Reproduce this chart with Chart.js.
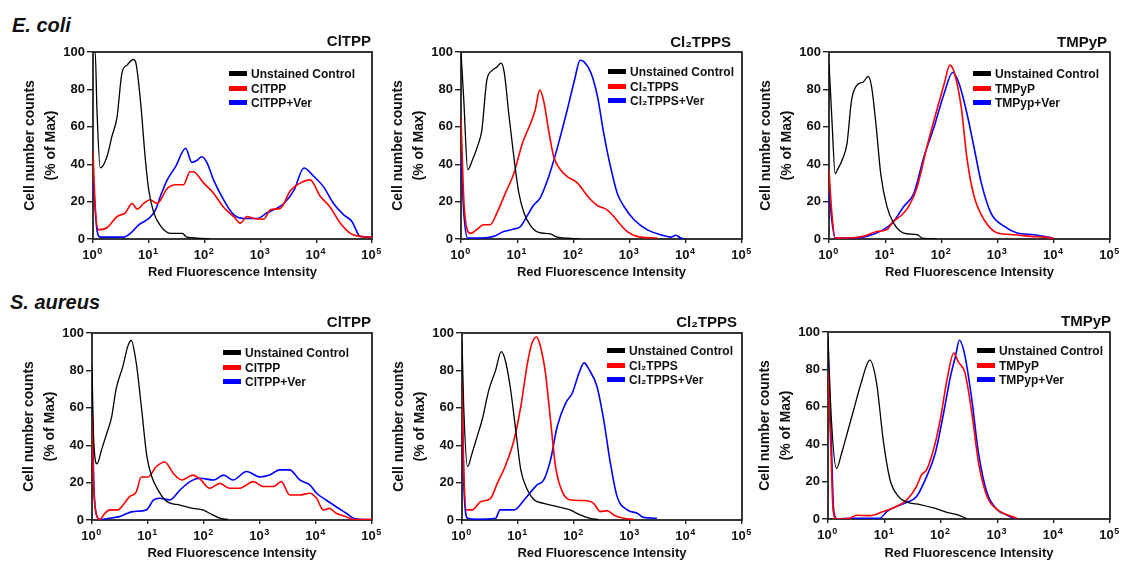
<!DOCTYPE html>
<html>
<head>
<meta charset="utf-8">
<script src="https://cdn.jsdelivr.net/npm/chart.js@4.4.1/dist/chart.umd.min.js"></script>
<style>
    body { margin: 0; background: #fff; }
    #fig { position: relative; width: 1121px; height: 561px; overflow: hidden; background: #fff; }
    #fig canvas { position: absolute; }
    .species { position: absolute; font: italic bold 20px "Liberation Sans", Arial, sans-serif; color: #111; line-height: 24px; }
    .ptitle { position: absolute; font: bold 15px "Liberation Sans", Arial, sans-serif; color: #111; line-height: 18px; white-space: nowrap; }
    .legend { position: absolute; font: bold 12px "Liberation Sans", Arial, sans-serif; color: #111; line-height: 14.5px; white-space: nowrap; }
    .legend .sw { display: inline-block; width: 18px; height: 5px; margin-right: 4px; vertical-align: middle; position: relative; top: -1px; }
</style>
</head>
<body>
<div id="fig">
    <div class="species" style="left:12px;top:13px">E. coli</div>
    <div class="species" style="left:10px;top:290px">S. aureus</div>
</div>
<script>
// x values are log10 of red fluorescence intensity, y values are % of max
const decadeBase = '10';
const decadeExponents = ['0', '1', '2', '3', '4', '5'];

// E. coli - ClTPP
const ecoliClCtrlX = [0, 0.04, 0.07, 0.13, 0.25, 0.34, 0.43, 0.52, 0.61, 0.72, 0.76, 0.85, 0.94, 1.0, 1.09, 1.21, 1.39, 1.6, 1.68, 1.86, 2.1];
const ecoliClCtrlY = [100, 100, 70, 38, 44, 55, 65, 89, 93, 96, 95, 74, 42, 26, 14, 7, 3, 3, 1, 0.5, 0];
const ecoliClDyeX = [0, 0.04, 0.1, 0.25, 0.43, 0.58, 0.7, 0.79, 0.91, 1.02, 1.15, 1.33, 1.48, 1.62, 1.74, 1.8, 1.98, 2.16, 2.34, 2.52, 2.64, 2.76, 2.88, 3.06, 3.18, 3.36, 3.54, 3.72, 3.89, 4.07, 4.25, 4.43, 4.61, 4.79, 5];
const ecoliClDyeY = [47, 17, 5, 6, 12, 14, 19, 16, 19, 21, 19, 27, 29, 29, 36, 36, 30, 24.5, 17, 12, 8.5, 12, 11, 10.6, 15.6, 16.5, 26, 30, 31.6, 23, 17, 8.5, 3, 1.4, 1];
const ecoliClVerX = [0, 0.07, 0.13, 0.55, 0.67, 0.82, 1.0, 1.12, 1.21, 1.33, 1.48, 1.66, 1.77, 1.86, 1.95, 2.04, 2.16, 2.34, 2.52, 2.7, 2.94, 3.12, 3.42, 3.6, 3.78, 3.96, 4.13, 4.31, 4.49, 4.64, 4.79, 5];
const ecoliClVerY = [34, 5, 1, 1, 3, 7.6, 11, 15.6, 23, 31.6, 38.7, 48.5, 41, 42, 44, 41, 31.6, 21, 13, 11, 11, 14, 19, 26, 38, 33.4, 28, 19, 13, 9.4, 1.4, 1];

// E. coli - Cl2TPPS
const ecoliCl2CtrlX = [0, 0.05, 0.12, 0.2, 0.31, 0.37, 0.46, 0.55, 0.64, 0.71, 0.77, 0.85, 0.94, 1.03, 1.12, 1.24, 1.38, 1.59, 1.71, 1.89, 2.12];
const ecoliCl2CtrlY = [100, 74, 37, 42, 51, 58, 85, 90, 92, 94, 89, 67, 44, 24.5, 14, 7, 3.5, 2.7, 1, 0.4, 0];
const ecoliCl2DyeX = [0, 0.05, 0.11, 0.17, 0.28, 0.4, 0.52, 0.64, 0.79, 0.94, 1.09, 1.24, 1.32, 1.4, 1.47, 1.56, 1.65, 1.77, 1.89, 2.07, 2.25, 2.42, 2.6, 2.72, 2.84, 2.96, 3.13, 3.49];
const ecoliCl2DyeY = [65, 21, 5, 3, 5, 7.6, 7.6, 14, 24.5, 35, 51, 62, 69, 79.6, 74, 58, 44, 37, 33.4, 30, 23, 18, 15.6, 12, 7.6, 4, 1.4, 0.5];
const ecoliCl2VerX = [0, 0.05, 0.12, 0.37, 0.58, 0.76, 0.94, 1.06, 1.17, 1.29, 1.41, 1.53, 1.65, 1.77, 1.89, 2.02, 2.12, 2.19, 2.31, 2.43, 2.54, 2.66, 2.78, 2.9, 3.08, 3.31, 3.55, 3.73, 3.82, 3.91, 3.98];
const ecoliCl2VerY = [46, 14, 0.5, 0.5, 1.4, 4, 5.3, 6.7, 12, 18, 22, 30.7, 42, 55, 69, 85, 95.6, 94.7, 89, 76, 56.5, 38.7, 24.5, 17.4, 10.3, 5, 2.3, 1, 2, 0.5, 0];

// E. coli - TMPyP
const ecoliTmCtrlX = [0, 0.05, 0.11, 0.15, 0.23, 0.32, 0.4, 0.49, 0.61, 0.7, 0.76, 0.84, 0.92, 1.03, 1.15, 1.33, 1.57, 1.66, 1.92];
const ecoliTmCtrlY = [94, 65, 35, 37, 42, 51, 74, 82, 84, 87, 81, 60, 35, 17.4, 8.5, 3.2, 2.3, 0.5, 0];
const ecoliTmDyeX = [0, 0.05, 0.11, 0.32, 0.61, 0.85, 1.03, 1.15, 1.3, 1.42, 1.57, 1.74, 1.9, 2.05, 2.15, 2.23, 2.35, 2.46, 2.58, 2.76, 3.0, 3.29, 3.59, 3.83, 4.0];
const ecoliTmDyeY = [37, 14, 0.5, 0.5, 1.4, 4, 5, 9.4, 13, 17.4, 28, 49, 67, 83, 93, 89, 71, 42, 23, 10.3, 3.2, 2.3, 1.4, 1, 0.3];
const ecoliTmVerX = [0, 0.05, 0.11, 0.37, 0.67, 0.97, 1.15, 1.33, 1.51, 1.69, 1.87, 2.05, 2.2, 2.32, 2.47, 2.59, 2.71, 2.88, 3.12, 3.35, 3.65, 3.89, 4.0];
const ecoliTmVerY = [26, 10, 0.5, 0.5, 1.4, 5, 9.4, 17.4, 24.5, 44, 60, 78, 89, 82.6, 65, 47.6, 30, 14, 6.7, 3.2, 2.3, 1, 0.3];

// S. aureus - ClTPP
const aureusClCtrlX = [0, 0.03, 0.09, 0.17, 0.26, 0.35, 0.43, 0.55, 0.64, 0.7, 0.79, 0.88, 0.98, 1.07, 1.18, 1.33, 1.57, 1.8, 1.98, 2.1, 2.28, 2.43];
const aureusClCtrlY = [82, 43, 30, 37.5, 46, 55, 70, 82, 93, 96, 84, 61, 34, 23, 16, 10, 8, 6.2, 5.4, 3.6, 1, 0.3];
const aureusClDyeX = [0, 0.03, 0.08, 0.14, 0.23, 0.32, 0.46, 0.58, 0.67, 0.79, 0.88, 1.0, 1.15, 1.3, 1.45, 1.6, 1.8, 1.93, 2.1, 2.28, 2.46, 2.64, 2.88, 3.06, 3.24, 3.38, 3.53, 3.71, 3.89, 4.01, 4.13, 4.24, 4.36, 4.54, 4.66, 5];
const aureusClDyeY = [57, 18, 2.7, 0.3, 3.6, 5.4, 5.4, 9, 12.5, 15, 23, 23, 28.6, 31, 25, 21.4, 24, 21.8, 17, 19.6, 17, 17, 20.5, 17.9, 17.9, 20.5, 13.4, 13.4, 14.3, 11.6, 5.4, 6.2, 3.6, 1.8, 0.3, 0.2];
const aureusClVerX = [0, 0.03, 0.08, 0.14, 0.26, 0.49, 0.73, 0.97, 1.1, 1.21, 1.39, 1.57, 1.75, 1.93, 2.17, 2.35, 2.52, 2.76, 3.0, 3.17, 3.35, 3.53, 3.71, 3.89, 4.01, 4.18, 4.36, 4.54, 4.69, 5];
const aureusClVerY = [64, 21, 2.7, 0.3, 0.7, 1.8, 4.5, 5.4, 10.7, 11.6, 10.7, 16, 20.5, 22.3, 21.4, 24, 21.4, 25.9, 23, 24, 26.8, 26.8, 21.4, 18.8, 14.3, 10.7, 7.1, 3.6, 0.7, 0.2];

// S. aureus - Cl2TPPS
const aureusCl2CtrlX = [0, 0.03, 0.1, 0.18, 0.27, 0.36, 0.48, 0.6, 0.7, 0.77, 0.86, 0.96, 1.05, 1.17, 1.29, 1.46, 1.7, 1.93, 2.11, 2.29, 2.44];
const aureusCl2CtrlY = [96, 61, 28.6, 35.7, 44.6, 53.6, 69.6, 80, 90, 85.7, 71.4, 48, 26.8, 16, 10.7, 8.9, 7.1, 5.4, 2.7, 0.9, 0.2];
const aureusCl2DyeX = [0, 0.03, 0.08, 0.18, 0.33, 0.51, 0.63, 0.77, 0.93, 1.05, 1.17, 1.25, 1.33, 1.4, 1.49, 1.58, 1.67, 1.79, 1.94, 2.18, 2.35, 2.47, 2.59, 2.71, 2.89, 3.07];
const aureusCl2DyeY = [75, 28.6, 5.4, 5.4, 9.8, 11.6, 19.6, 28.6, 42.9, 60.7, 84, 94.6, 97.9, 92.9, 78.6, 53.6, 28.6, 15.2, 10.7, 10.4, 8.9, 4.5, 5, 2.7, 0.9, 0.4];
const aureusCl2VerX = [0, 0.03, 0.1, 0.27, 0.6, 0.68, 0.93, 1.11, 1.34, 1.46, 1.58, 1.7, 1.85, 1.97, 2.09, 2.18, 2.27, 2.41, 2.53, 2.65, 2.77, 2.95, 3.13, 3.24, 3.48];
const aureusCl2VerY = [70, 21, 0.9, 0.4, 0.9, 5.4, 5.4, 10.7, 18.8, 21.4, 32, 50, 62.5, 67.9, 78.6, 84, 80.4, 71.4, 53.6, 30.4, 12.5, 5.4, 3.6, 1.4, 0.9];

// S. aureus - TMPyP
const aureusTmCtrlX = [0, 0.06, 0.15, 0.24, 0.36, 0.47, 0.59, 0.74, 0.86, 0.98, 1.1, 1.25, 1.4, 1.63, 1.87, 2.11, 2.29, 2.46];
const aureusTmCtrlY = [97, 53, 27, 35, 48, 60, 73, 85, 73, 42, 21, 12, 9, 7.7, 5.9, 3.6, 2.3, 0.2];
const aureusTmDyeX = [0, 0.05, 0.09, 0.15, 0.39, 0.5, 0.74, 0.98, 1.22, 1.4, 1.57, 1.66, 1.75, 1.87, 1.99, 2.11, 2.23, 2.31, 2.43, 2.55, 2.67, 2.82, 3.0, 3.17, 3.35];
const aureusTmDyeY = [80, 39, 5, 0, 0.4, 2, 1.8, 4, 6.8, 10.3, 17.5, 23.7, 26.4, 37, 53, 74.5, 88.8, 84, 78, 56.7, 30, 12, 5, 2.3, 0.4];
const aureusTmVerX = [0, 0.06, 0.1, 0.16, 0.39, 0.92, 1.04, 1.22, 1.4, 1.57, 1.75, 1.9, 2.05, 2.17, 2.26, 2.33, 2.43, 2.55, 2.67, 2.82, 3.0, 3.17, 3.29];
const aureusTmVerY = [85, 39, 5, 0, 0.4, 0.4, 4, 6.8, 8.9, 12, 22.8, 35, 56.7, 76, 87, 95.6, 87, 63.8, 35, 14, 5, 2.1, 0.4];

const FONT = '"Liberation Sans", Arial, sans-serif';
const INK = '#111';
const Y_W = 75;

// canvas box [left, top, w, h], chart area [l, t, r, b] inside canvas, title right edge/top, legend left/top
const panels = [
    { title: 'ClTPP', dye: 'ClTPP', ver: 'ClTPP+Ver', canvas: [0, 0, 392, 280], area: [93, 52, 372, 239], tRight: 371, tTop: 32, lg: [229, 67],
      data: [ecoliClCtrlX, ecoliClCtrlY, ecoliClDyeX, ecoliClDyeY, ecoliClVerX, ecoliClVerY] },
    { title: 'Cl₂TPPS', dye: 'Cl₂TPPS', ver: 'Cl₂TPPS+Ver', canvas: [380, 0, 382, 280], area: [81, 52, 362, 239], tRight: 731, tTop: 33, lg: [608, 65],
      data: [ecoliCl2CtrlX, ecoliCl2CtrlY, ecoliCl2DyeX, ecoliCl2DyeY, ecoliCl2VerX, ecoliCl2VerY] },
    { title: 'TMPyP', dye: 'TMPyP', ver: 'TMPyp+Ver', canvas: [750, 0, 371, 280], area: [79, 52, 360, 239], tRight: 1107, tTop: 33, lg: [973, 67],
      data: [ecoliTmCtrlX, ecoliTmCtrlY, ecoliTmDyeX, ecoliTmDyeY, ecoliTmVerX, ecoliTmVerY] },
    { title: 'ClTPP', dye: 'ClTPP', ver: 'ClTPP+Ver', canvas: [0, 280, 392, 281], area: [92, 53, 372, 240], tRight: 371, tTop: 313, lg: [223, 346],
      data: [aureusClCtrlX, aureusClCtrlY, aureusClDyeX, aureusClDyeY, aureusClVerX, aureusClVerY] },
    { title: 'Cl₂TPPS', dye: 'Cl₂TPPS', ver: 'Cl₂TPPS+Ver', canvas: [380, 280, 382, 281], area: [82, 53, 362, 240], tRight: 737, tTop: 313, lg: [607, 344],
      data: [aureusCl2CtrlX, aureusCl2CtrlY, aureusCl2DyeX, aureusCl2DyeY, aureusCl2VerX, aureusCl2VerY] },
    { title: 'TMPyP', dye: 'TMPyP', ver: 'TMPyp+Ver', canvas: [750, 280, 371, 281], area: [78, 52, 360, 239], tRight: 1111, tTop: 312, lg: [977, 344],
      data: [aureusTmCtrlX, aureusTmCtrlY, aureusTmDyeX, aureusTmDyeY, aureusTmVerX, aureusTmVerY] }
];

const framePlugin = {
    id: 'frame',
    beforeDatasetsDraw(chart) {
        const { ctx, chartArea: a } = chart;
        ctx.save();
        ctx.strokeStyle = '#222';
        ctx.lineWidth = 1.8;
        ctx.strokeRect(a.left, a.top, a.right - a.left, a.bottom - a.top);
        ctx.restore();
    }
};

// "10" with a raised exponent under each decade tick
const decadeLabelPlugin = {
    id: 'decadeLabels',
    afterDraw(chart) {
        const { ctx, chartArea: a } = chart;
        const xs = chart.scales.x;
        ctx.save();
        ctx.fillStyle = INK;
        ctx.textAlign = 'left';
        ctx.textBaseline = 'alphabetic';
        xs.ticks.forEach(t => {
            const exp = decadeExponents[t.value];
            ctx.font = `bold 13px ${FONT}`;
            const wb = ctx.measureText(decadeBase).width;
            ctx.font = `bold 9px ${FONT}`;
            const we = ctx.measureText(exp).width;
            const left = xs.getPixelForValue(t.value) - (wb + we) / 2 - 1;
            ctx.font = `bold 13px ${FONT}`;
            ctx.fillText(decadeBase, left, a.bottom + 20);
            ctx.font = `bold 9px ${FONT}`;
            ctx.fillText(exp, left + wb + 0.5, a.bottom + 15);
        });
        ctx.restore();
    }
};

function series(label, xs, ys, color, width) {
    return {
        label,
        data: xs.map((x, i) => ({ x, y: ys[i] })),
        borderColor: color,
        backgroundColor: color,
        borderWidth: width,
        pointRadius: 0,
        fill: false,
        cubicInterpolationMode: 'monotone'
    };
}

const fig = document.getElementById('fig');

panels.forEach(p => {
    const [cl, ct, cw, ch] = p.canvas;
    const [al, at, ar, ab] = p.area;

    const canvas = document.createElement('canvas');
    canvas.width = cw;
    canvas.height = ch;
    canvas.style.left = cl + 'px';
    canvas.style.top = ct + 'px';
    canvas.style.width = cw + 'px';
    canvas.style.height = ch + 'px';
    fig.appendChild(canvas);

    const [cx, cy, dx, dy, vx, vy] = p.data;
    const chart = new Chart(canvas, {
        type: 'line',
        data: {
            datasets: [
                series('Unstained Control', cx, cy, '#000000', 1.3),
                series(p.dye, dx, dy, '#ff0000', 1.6),
                series(p.ver, vx, vy, '#0000ff', 1.6)
            ]
        },
        options: {
            responsive: false,
            devicePixelRatio: 1,
            animation: false,
            events: [],
            layout: { padding: { left: al - Y_W, top: at, right: cw - ar, bottom: 0 } },
            plugins: { legend: { display: false }, tooltip: { enabled: false } },
            scales: {
                x: {
                    type: 'linear',
                    min: 0,
                    max: 5,
                    border: { display: false },
                    grid: { drawOnChartArea: false, drawTicks: true, tickLength: 4, color: '#222', lineWidth: 1.4 },
                    ticks: { stepSize: 1, autoSkip: false, maxRotation: 0, display: false },
                    title: {
                        display: true, text: 'Red Fluorescence Intensity', color: INK,
                        font: { family: FONT, size: 13, weight: 'bold' },
                        padding: { top: 0, bottom: 0 }
                    },
                    afterFit: s => { s.height = ch - ab; s.paddingLeft = 0; s.paddingRight = 0; }
                },
                y: {
                    min: 0,
                    max: 100,
                    border: { display: false },
                    grid: { drawOnChartArea: false, drawTicks: true, tickLength: 6, color: '#222', lineWidth: 1.4 },
                    ticks: {
                        stepSize: 20, padding: 2, color: INK,
                        font: { family: FONT, size: 13, weight: 'bold' }
                    },
                    title: {
                        display: true, text: ['Cell number counts', '(% of Max)'], color: INK,
                        font: { family: FONT, size: 14, weight: 'bold', lineHeight: 1.5 },
                        padding: { top: 1.5, bottom: 0 }
                    },
                    afterFit: s => { s.width = Y_W; s.paddingTop = 0; s.paddingBottom = 0; }
                }
            }
        },
        plugins: [framePlugin, decadeLabelPlugin]
    });

    const title = document.createElement('div');
    title.className = 'ptitle';
    title.style.right = (1121 - p.tRight) + 'px';
    title.style.top = p.tTop + 'px';
    title.textContent = p.title;
    fig.appendChild(title);

    const legend = document.createElement('div');
    legend.className = 'legend';
    legend.style.left = p.lg[0] + 'px';
    legend.style.top = p.lg[1] + 'px';
    legend.innerHTML = chart.data.datasets
        .map(d => `<div><span class="sw" style="background:${d.borderColor}"></span>${d.label}</div>`)
        .join('');
    fig.appendChild(legend);
});
</script>
</body>
</html>
